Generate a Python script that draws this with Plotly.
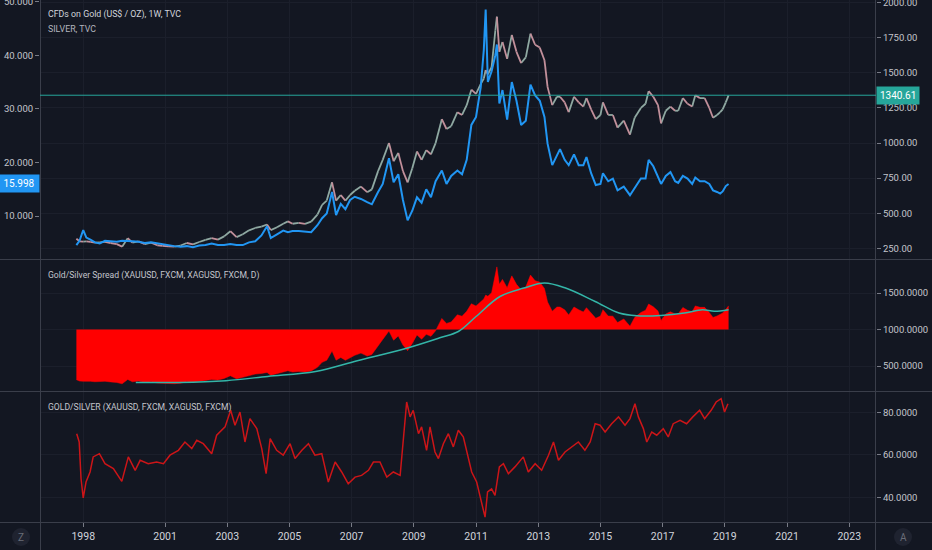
import plotly.graph_objects as go

FONT = "Roboto, Liberation Sans, sans-serif"
BG = "#131722"

# time positions in decimal years
gs_years = [1998.15, 1998.25, 1998.37, 1998.47, 1998.6, 1998.75, 1998.9, 1999.07, 1999.25, 1999.45,
            1999.62, 1999.8, 1999.95, 2000.15, 2000.35, 2000.55, 2000.75, 2000.92,
            2001.1, 2001.3, 2001.5, 2001.7, 2001.9, 2002.1, 2002.3, 2002.5, 2002.7, 2002.9,
            2003.1, 2003.3, 2003.5, 2003.7, 2003.9, 2004.1, 2004.28, 2004.4, 2004.6, 2004.8, 2004.95,
            2005.1, 2005.3, 2005.5, 2005.7, 2005.9, 2006.05, 2006.2, 2006.37, 2006.5, 2006.65, 2006.8, 2006.95,
            2007.1, 2007.3, 2007.5, 2007.65, 2007.85, 2008.0, 2008.2, 2008.35, 2008.5, 2008.65, 2008.8, 2008.95,
            2009.1, 2009.25, 2009.4, 2009.55, 2009.7, 2009.9, 2010.05, 2010.2, 2010.4, 2010.55, 2010.7, 2010.85,
            2011.0, 2011.15, 2011.25, 2011.31, 2011.38, 2011.5, 2011.62, 2011.67, 2011.75, 2011.85,
            2012.0, 2012.15, 2012.3, 2012.45, 2012.6, 2012.75, 2012.9,
            2013.05, 2013.2, 2013.3, 2013.45, 2013.6, 2013.7, 2013.85, 2013.98,
            2014.15, 2014.3, 2014.45, 2014.55, 2014.7, 2014.85,
            2015.0, 2015.08, 2015.25, 2015.4, 2015.55, 2015.75, 2015.95,
            2016.1, 2016.3, 2016.45, 2016.55, 2016.7, 2016.85, 2016.95,
            2017.1, 2017.25, 2017.4, 2017.5, 2017.65, 2017.8, 2017.95,
            2018.05, 2018.2, 2018.35, 2018.5, 2018.62, 2018.75, 2018.85, 2018.93, 2019.03, 2019.12]

gold = [318, 300, 298, 300, 296, 290, 292, 296, 288, 280,
        262, 322, 290, 300, 280, 290, 272, 268,
        265, 262, 270, 288, 278, 295, 310, 322, 312, 335,
        372, 330, 350, 378, 395, 405, 420, 380, 400, 425, 442,
        425, 432, 424, 440, 490, 560, 590, 720, 590, 630, 590, 630,
        660, 690, 650, 670, 800, 880, 1000, 870, 930, 800, 720, 820,
        940, 880, 950, 920, 1000, 1170, 1100, 1120, 1220, 1200, 1270, 1380,
        1350, 1420, 1460, 1520, 1490, 1540, 1800, 1900, 1650, 1720,
        1600, 1770, 1650, 1570, 1610, 1780, 1700,
        1680, 1590, 1400, 1270, 1330, 1330, 1290, 1220,
        1330, 1290, 1260, 1320, 1240, 1170,
        1200, 1290, 1200, 1200, 1110, 1160, 1060,
        1180, 1250, 1280, 1370, 1330, 1270, 1140,
        1230, 1260, 1230, 1230, 1320, 1280, 1260,
        1340, 1320, 1320, 1250, 1180, 1200, 1220, 1240, 1290, 1340]

silver = [4.6, 5.4, 7.4, 6.0, 5.6, 5.1, 4.9, 5.4, 5.3, 5.2,
          5.4, 5.4, 5.3, 5.2, 5.0, 5.1, 4.9, 4.7,
          4.6, 4.4, 4.3, 4.4, 4.2, 4.5, 4.6, 4.9, 4.6, 4.6,
          4.8, 4.6, 4.6, 5.1, 5.3, 6.4, 8.1, 5.9, 6.6, 7.3, 7.0,
          7.2, 7.2, 7.1, 7.0, 8.3, 9.6, 10.5, 14.5, 10.2, 12.3, 11.3, 13.0,
          13.6, 13.2, 12.6, 12.2, 14.5, 16.0, 20.8, 16.3, 17.8, 13.0, 9.2, 11.0,
          13.5, 12.5, 15.0, 13.5, 16.5, 18.5, 16.0, 17.5, 18.5, 17.8, 20.5, 27.0,
          28.5, 34.0, 41.0, 48.5, 35.0, 37.0, 40.0, 42.0, 31.0, 33.5,
          28.0, 35.0, 31.5, 27.0, 27.8, 34.5, 32.5,
          31.5, 28.5, 23.5, 19.5, 21.5, 22.5, 20.5, 19.5,
          21.5, 19.5, 19.5, 21.0, 18.0, 15.8,
          16.0, 18.0, 16.5, 17.0, 14.8, 15.5, 13.9,
          15.2, 17.0, 17.0, 20.5, 19.3, 17.5, 16.0,
          17.5, 18.2, 16.5, 16.2, 17.5, 17.0, 16.0,
          17.2, 16.5, 16.5, 16.0, 14.8, 14.5, 14.2, 14.6, 15.6, 16.0]

# moving average of the spread (cyan line in the middle pane)
ma_years = [2000.06, 2001.44, 2002.96, 2004.3, 2005.84, 2007.18, 2008.71, 2009.86, 2010.43,
            2011.0, 2011.77, 2012.54, 2013.2, 2013.88, 2014.83, 2015.6, 2016.18, 2016.94,
            2017.7, 2018.28, 2018.66, 2019.12]
spread_ma = [275, 275, 300, 358, 426, 573, 737, 890, 973,
             1178, 1452, 1568, 1637, 1568, 1384, 1226, 1189, 1193,
             1226, 1271, 1249, 1271]
spread_base = 1000

ratio_years = [1998.16, 1998.24, 1998.30, 1998.37, 1998.46, 1998.59, 1998.69, 1998.89, 1999.07, 1999.34,
               1999.61, 1999.82, 2000.04, 2000.20, 2000.46, 2000.73, 2000.95, 2001.16, 2001.43, 2001.64,
               2001.86, 2002.02, 2002.23, 2002.50, 2002.66, 2002.93, 2003.11, 2003.25, 2003.41, 2003.57,
               2003.73, 2003.95, 2004.11, 2004.25, 2004.38, 2004.59, 2004.80, 2005.02, 2005.18, 2005.40,
               2005.61, 2005.82, 2006.04, 2006.25, 2006.47, 2006.68, 2006.89, 2007.11, 2007.32, 2007.54,
               2007.70, 2007.91, 2008.13, 2008.34, 2008.56, 2008.66, 2008.77, 2008.88, 2008.98, 2009.15,
               2009.25, 2009.41, 2009.52, 2009.68, 2009.79, 2009.95, 2010.11, 2010.27, 2010.43, 2010.59,
               2010.70, 2010.86, 2011.02, 2011.18, 2011.29, 2011.37, 2011.50, 2011.61, 2011.75, 2011.88,
               2012.04, 2012.25, 2012.52, 2012.68, 2012.90, 2013.11, 2013.33, 2013.49, 2013.65, 2013.86,
               2014.08, 2014.29, 2014.50, 2014.67, 2014.83, 2014.99, 2015.15, 2015.36, 2015.58, 2015.79,
               2015.95, 2016.11, 2016.22, 2016.38, 2016.49, 2016.65, 2016.81, 2017.02, 2017.18, 2017.34,
               2017.56, 2017.77, 2017.97, 2018.19, 2018.35, 2018.56, 2018.72, 2018.88, 2018.99, 2019.10]
ratio = [70.0, 66.1, 48.8, 39.8, 47.3, 52.0, 59.1, 60.6, 55.9, 53.6,
         47.6, 59.1, 52.8, 57.5, 55.9, 56.7, 55.9, 59.9, 62.2, 66.1,
         63.0, 66.9, 65.3, 60.6, 69.3, 73.2, 81.0, 74.0, 80.2, 66.1,
         77.1, 72.4, 63.0, 51.2, 67.7, 62.2, 59.9, 65.3, 58.3, 62.2,
         65.3, 59.9, 60.6, 47.3, 56.7, 52.0, 46.5, 49.6, 50.4, 52.8,
         56.7, 56.7, 49.6, 52.0, 50.4, 67.7, 84.9, 77.9, 81.0, 70.0,
         73.2, 62.2, 73.2, 61.4, 58.3, 65.3, 70.0, 63.8, 71.6, 68.5,
         61.4, 52.0, 47.3, 37.9, 30.8, 42.6, 44.1, 41.0, 54.4, 55.9,
         51.2, 54.4, 59.1, 52.0, 55.9, 52.8, 59.9, 66.1, 57.5, 61.4,
         63.8, 66.1, 62.2, 66.1, 74.7, 74.0, 70.8, 74.7, 77.9, 74.0,
         77.1, 84.1, 77.9, 72.4, 66.1, 70.8, 69.3, 72.4, 68.5, 74.7,
         76.3, 74.7, 77.9, 81.0, 77.1, 81.0, 84.9, 86.5, 80.2, 84.1]

tick_years = [1998.37, 2001, 2003, 2005, 2007, 2009, 2011, 2013, 2015, 2017, 2019, 2021, 2023]
tick_text = ["1998", "2001", "2003", "2005", "2007", "2009", "2011", "2013", "2015", "2017", "2019", "2021", "2023"]

gold_ticks = [250, 500, 750, 1000, 1250, 1500, 1750, 2000]
silver_ticks = [10, 20, 30, 40, 50]
spread_ticks = [500, 1000, 1500]
ratio_ticks = [40, 60, 80]

last_gold = 1340.61
last_silver = 15.998

spread = [g - s for g, s in zip(gold, silver)]

fig = go.Figure()

# gold drawn as up / down coloured pieces like the weekly bars
up_x, up_y, dn_x, dn_y = [], [], [], []
for i in range(1, len(gold)):
    if gold[i] >= gold[i - 1]:
        up_x += [gs_years[i - 1], gs_years[i], None]
        up_y += [gold[i - 1], gold[i], None]
    else:
        dn_x += [gs_years[i - 1], gs_years[i], None]
        dn_y += [gold[i - 1], gold[i], None]
fig.add_trace(go.Scatter(x=up_x, y=up_y, mode="lines", line=dict(color="#8fa9a2", width=1.8),
                         xaxis="x", yaxis="y", hoverinfo="skip"))
fig.add_trace(go.Scatter(x=dn_x, y=dn_y, mode="lines", line=dict(color="#c2909b", width=1.8),
                         xaxis="x", yaxis="y", hoverinfo="skip"))
fig.add_trace(go.Scatter(x=gs_years, y=silver, mode="lines", line=dict(color="#2196f3", width=2),
                         xaxis="x", yaxis="y4"))

# spread pane: red area against the 1000 level, plus its average
fig.add_trace(go.Scatter(x=[gs_years[0], gs_years[-1]], y=[spread_base, spread_base], mode="lines",
                         line=dict(width=0, color="#ff0000"), xaxis="x2", yaxis="y2"))
fig.add_trace(go.Scatter(x=gs_years, y=spread, mode="lines", fill="tonexty", fillcolor="#ff0000",
                         line=dict(color="#ff0000", width=0.5), xaxis="x2", yaxis="y2"))
fig.add_trace(go.Scatter(x=ma_years, y=spread_ma, mode="lines", line=dict(color="#33b5a8", width=1.5, shape="spline"),
                         xaxis="x2", yaxis="y2"))

# ratio pane
fig.add_trace(go.Scatter(x=ratio_years, y=ratio, mode="lines", line=dict(color="#cc1518", width=1.5),
                         xaxis="x3", yaxis="y3"))

xdom = [40 / 932, 876 / 932]
xcommon = dict(range=[1996.98, 2023.86], domain=xdom, tickvals=tick_years, ticktext=tick_text,
               showgrid=True, gridcolor="#1b1f2b", zeroline=False, showline=False, automargin=False)
ycommon = dict(showgrid=True, gridcolor="#1b1f2b", zeroline=False, showline=False, side="right",
               ticks="outside", ticklen=4, tickcolor="#787b86", automargin=False,
               ticklabeloverflow="allow", tickfont=dict(size=9.5, color="#c3c5cc"))

fig.update_layout(
    width=932, height=550, margin=dict(l=0, r=0, t=0, b=0, autoexpand=False),
    paper_bgcolor=BG, plot_bgcolor=BG, showlegend=False, hovermode=False,
    font=dict(family=FONT, color="#b2b5be", size=10),
    xaxis=dict(xcommon, anchor="y", showticklabels=False),
    xaxis2=dict(xcommon, anchor="y2", showticklabels=False),
    xaxis3=dict(xcommon, anchor="y3", showticklabels=True, ticks="outside", ticklen=4,
                tickcolor="#787b86", tickfont=dict(size=10.5, color="#d1d4dc")),
    yaxis=dict(ycommon, domain=[1 - 259 / 550, 1], anchor="x", range=[174, 2019],
               tickvals=gold_ticks, tickformat=".2f"),
    yaxis4=dict(ycommon, overlaying="y", side="left", anchor="x", range=[2.0, 50.3],
                tickvals=silver_ticks, tickformat=".3f", showgrid=False),
    yaxis2=dict(ycommon, domain=[1 - 391 / 550, 1 - 260 / 550], anchor="x2", range=[158, 1952],
                tickvals=spread_ticks, tickformat=".4f"),
    yaxis3=dict(ycommon, domain=[1 - 522 / 550, 1 - 392 / 550], anchor="x3", range=[28.5, 89.6],
                tickvals=ratio_ticks, tickformat=".4f"),
)

sep = "#3a3e4a"
shapes = []
for py in [259.5, 391.5, 522.5]:
    shapes.append(dict(type="line", xref="paper", yref="paper", x0=0, x1=1, y0=1 - py / 550, y1=1 - py / 550,
                       line=dict(color=sep, width=1)))
for px in [40.5, 875.5]:
    shapes.append(dict(type="line", xref="paper", yref="paper", x0=px / 932, x1=px / 932, y0=0, y1=1,
                       line=dict(color=sep, width=1)))
shapes.append(dict(type="line", xref="paper", yref="y", x0=xdom[0], x1=xdom[1], y0=last_gold, y1=last_gold,
                   line=dict(color="#26a69a", width=1)))
for cx in [21, 903]:
    shapes.append(dict(type="circle", xref="paper", yref="paper", x0=(cx - 9) / 932, x1=(cx + 9) / 932,
                       y0=1 - 546 / 550, y1=1 - 528 / 550, fillcolor="#1f2330", line=dict(width=0)))
fig.update_layout(shapes=shapes)

ann = [
    dict(text="CFDs on Gold (US$ / OZ), 1W, TVC", x=46 / 932, y=1 - 15 / 550, font=dict(size=8.8, color="#d1d4dc")),
    dict(text="SILVER, TVC", x=46 / 932, y=1 - 29 / 550, font=dict(size=8.8, color="#b2b5be")),
    dict(text="Gold/Silver Spread (XAUUSD, FXCM, XAGUSD, FXCM, D)", x=46 / 932, y=1 - 275.5 / 550,
         font=dict(size=8.6, color="#c3c5cc")),
    dict(text="GOLD/SILVER (XAUUSD, FXCM, XAGUSD, FXCM)", x=46 / 932, y=1 - 407 / 550,
         font=dict(size=8.6, color="#c3c5cc")),
]
for a in ann:
    a.update(xref="paper", yref="paper", xanchor="left", yanchor="middle", showarrow=False)
for letter, cx in [("Z", 21), ("A", 903)]:
    ann.append(dict(text=letter, x=cx / 932, y=1 - 537 / 550, xref="paper", yref="paper", showarrow=False,
                    xanchor="center", yanchor="middle", font=dict(size=10, color="#6a6d78")))
ann.append(dict(text=f"{last_gold:.2f}", x=xdom[1], y=last_gold, xref="paper", yref="y",
                xanchor="left", yanchor="middle", showarrow=False, bgcolor="#26a69a", borderpad=3,
                font=dict(size=10, color="#ffffff")))
ann.append(dict(text=f"{last_silver:.3f}", x=xdom[0], y=last_silver, xref="paper", yref="y4",
                xanchor="right", yanchor="middle", showarrow=False, bgcolor="#2196f3", borderpad=3,
                width=34, align="center", font=dict(size=10, color="#ffffff")))
fig.update_layout(annotations=ann)

# page body has a default margin, drop it so the figure sits at the window corner
fig.write_html("out.html", config={"displayModeBar": False},
               post_script="document.body.style.margin='0px';")
